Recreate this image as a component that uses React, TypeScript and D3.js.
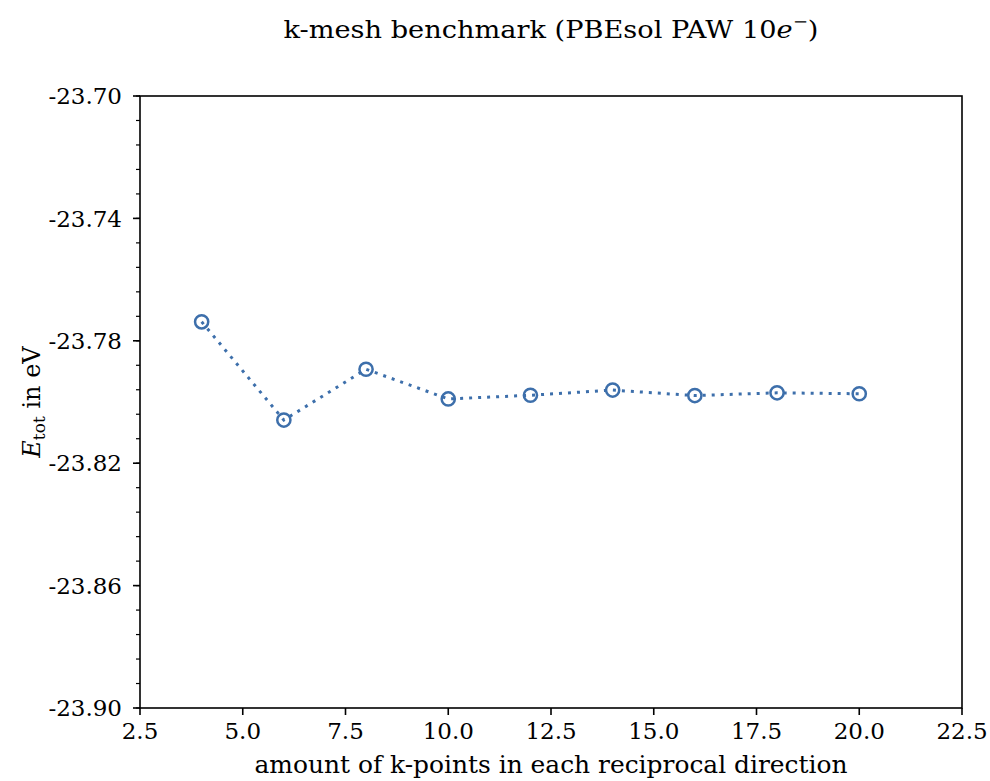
import React from "react";
import * as d3 from "d3";

// k-mesh convergence data
const kPoints: number[] = [4, 6, 8, 10, 12, 14, 16, 18, 20];
const totalEnergy: number[] = [
  -23.7738, -23.8059, -23.7893, -23.799, -23.7978, -23.7961, -23.7979, -23.797, -23.7973,
];
const xTicks: number[] = [2.5, 5.0, 7.5, 10.0, 12.5, 15.0, 17.5, 20.0, 22.5];
const yTicks: number[] = [-23.7, -23.74, -23.78, -23.82, -23.86, -23.9];

const W = 990;
const H = 781;
const margin = { left: 140, right: 28, top: 96, bottom: 73 };
const FONT = "'DejaVu Serif', serif";
const COLOR = "#3d6fab";
const txt = { fontFamily: FONT } as React.CSSProperties;

export default function App() {
  const x = d3.scaleLinear().domain([2.5, 22.5]).range([margin.left, W - margin.right]);
  const y = d3.scaleLinear().domain([-23.9, -23.7]).range([H - margin.bottom, margin.top]);

  const minorY: number[] = d3.range(0, 26).map((i) => -23.9 + i * 0.008).filter((v) => v <= -23.6999);

  const line = d3
    .line<number>()
    .x((_, i) => x(kPoints[i]))
    .y((d) => y(d));

  const [x0, x1] = x.range();
  const [y0, y1] = y.range();
  const fmtY = (v: number) => v.toFixed(2);

  return (
    <svg width={W} height={H} style={{ position: "absolute", left: 0, top: 0, background: "#fff" }}>
      <rect width={W} height={H} fill="#fff" />
      {/* title */}
      <text
        x={(x0 + x1) / 2}
        y={38}
        textAnchor="middle"
        style={txt}
        fontSize={24}
        fill="#000"
        textLength={535}
        lengthAdjust="spacingAndGlyphs"
      >
        k-mesh benchmark (PBEsol PAW 10<tspan fontStyle="italic">e</tspan>
        <tspan fontSize={16} dy={-11}>−</tspan>
        <tspan dy={11}>)</tspan>
      </text>

      {/* data */}
      <path
        d={line(totalEnergy) || ""}
        fill="none"
        stroke={COLOR}
        strokeWidth={3}
        strokeDasharray="3 6"
      />
      {totalEnergy.map((v, i) => (
        <circle
          key={i}
          cx={x(kPoints[i])}
          cy={y(v)}
          r={6.6}
          fill="none"
          stroke={COLOR}
          strokeWidth={2.5}
        />
      ))}

      {/* frame */}
      <rect x={x0} y={y1} width={x1 - x0} height={y0 - y1} fill="none" stroke="#000" strokeWidth={1.6} />

      {/* x axis ticks */}
      {xTicks.map((t) => (
        <g key={t}>
          <line x1={x(t)} x2={x(t)} y1={y0} y2={y0 + 7} stroke="#000" strokeWidth={1.6} />
          <text x={x(t)} y={739} textAnchor="middle" style={txt} fontSize={23} fill="#000">
            {t.toFixed(1)}
          </text>
        </g>
      ))}

      {/* y axis ticks */}
      {minorY.map((t, i) => (
        <line key={"m" + i} x1={x0 - 4} x2={x0} y1={y(t)} y2={y(t)} stroke="#000" strokeWidth={1.2} />
      ))}
      {yTicks.map((t) => (
        <g key={t}>
          <line x1={x0 - 7} x2={x0} y1={y(t)} y2={y(t)} stroke="#000" strokeWidth={1.6} />
          <text
            x={x0 - 18}
            y={y(t)}
            dy="0.36em"
            textAnchor="end"
            style={txt}
            fontSize={23}
            fill="#000"
          >
            {fmtY(t)}
          </text>
        </g>
      ))}

      {/* axis labels */}
      <text
        x={(x0 + x1) / 2}
        y={773}
        textAnchor="middle"
        style={txt}
        fontSize={24}
        fill="#000"
        textLength={593}
        lengthAdjust="spacingAndGlyphs"
      >
        amount of k-points in each reciprocal direction
      </text>
      <text
        transform={`translate(40, ${(y0 + y1) / 2}) rotate(-90)`}
        textAnchor="middle"
        style={txt}
        fontSize={24}
        fill="#000"
      >
        <tspan fontStyle="italic">E</tspan>
        <tspan fontSize={17} dy={5}>tot</tspan>
        <tspan dy={-5}> in eV</tspan>
      </text>
    </svg>
  );
}
